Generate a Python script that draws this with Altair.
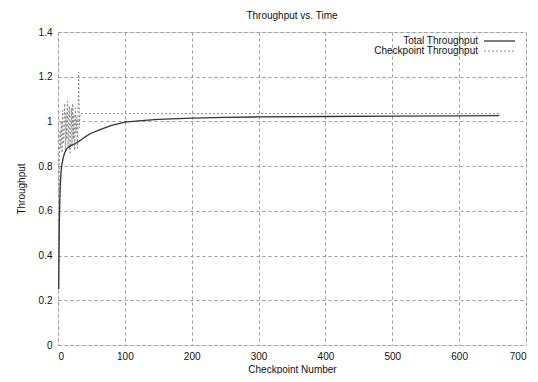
import altair as alt
import pandas as pd

# Total throughput (cumulative average)
total_x = [1, 2, 3, 4, 5, 6, 8, 10, 13, 16, 20, 25, 33, 40, 48, 60, 80, 100,
           125, 150, 200, 250, 300, 400, 500, 600, 660]
total_y = [0.25, 0.55, 0.68, 0.75, 0.79, 0.81, 0.84, 0.86, 0.877, 0.885, 0.893,
           0.9, 0.914, 0.93, 0.945, 0.96, 0.982, 0.997, 1.004, 1.009, 1.015,
           1.018, 1.02, 1.022, 1.024, 1.025, 1.026]

# Per-checkpoint throughput
cp_x = list(range(1, 34)) + [34, 40, 60, 100, 200, 300, 400, 500, 600, 660]
cp_y = [0.25, 0.84, 0.96, 0.88, 1.0, 0.86, 1.05, 0.9, 0.97, 1.08, 0.87, 1.04,
        0.92, 1.09, 0.88, 1.01, 1.07, 0.86, 0.97, 1.06, 0.89, 1.08, 0.92, 1.03,
        0.87, 1.06, 0.95, 1.02, 0.88, 1.04, 1.22, 0.97, 1.035,
        1.035, 1.035, 1.035, 1.035, 1.035, 1.035, 1.035, 1.035, 1.035, 1.035]

legend_labels = ["Total Throughput", "Checkpoint Throughput"]

total_df = pd.DataFrame({"x": total_x, "y": total_y})
cp_df = pd.DataFrame({"x": cp_x, "y": cp_y})

FONT = "Liberation Sans"

xs = alt.Scale(domain=[0, 700], nice=False, zero=False)
ys = alt.Scale(domain=[0, 1.4], nice=False)

xaxis = alt.Axis(values=[0, 100, 200, 300, 400, 500, 600, 700], title="Checkpoint Number",
                 grid=True, gridDash=[3, 3], gridColor="#999999", ticks=False,
                 domain=False, labelPadding=6, titlePadding=3,
                 labelFont=FONT, titleFont=FONT, labelFontSize=10, titleFontSize=10,
                 titleFontWeight="normal", labelColor="#111", titleColor="#111")
yaxis = alt.Axis(values=[0, 0.2, 0.4, 0.6, 0.8, 1.0, 1.2, 1.4], title="Throughput",
                 format="~g", grid=True, gridDash=[3, 3], gridColor="#999999",
                 ticks=False, domain=False, labelPadding=6, titlePadding=12,
                 labelFont=FONT, titleFont=FONT, labelFontSize=10, titleFontSize=10,
                 titleFontWeight="normal", labelColor="#111", titleColor="#111")

cp_line = alt.Chart(cp_df).mark_line(color="#888888", strokeWidth=1,
                                     strokeDash=[2, 2]).encode(
    x=alt.X("x:Q", scale=xs, axis=xaxis),
    y=alt.Y("y:Q", scale=ys, axis=yaxis),
)
total_line = alt.Chart(total_df).mark_line(color="#333333", strokeWidth=1.3).encode(
    x=alt.X("x:Q", scale=xs, axis=xaxis),
    y=alt.Y("y:Q", scale=ys, axis=yaxis),
)

one = pd.DataFrame({"a": [0]})
leg_text1 = alt.Chart(one).mark_text(align="right", baseline="middle", font=FONT,
                                     fontSize=10, color="#111").encode(
    x=alt.value(420), y=alt.value(9), text=alt.value(legend_labels[0]))
leg_text2 = alt.Chart(one).mark_text(align="right", baseline="middle", font=FONT,
                                     fontSize=10, color="#111").encode(
    x=alt.value(420), y=alt.value(19), text=alt.value(legend_labels[1]))
leg_rule1 = alt.Chart(one).mark_rule(color="#333333", strokeWidth=1.3).encode(
    x=alt.value(426), x2=alt.value(457), y=alt.value(9))
leg_rule2 = alt.Chart(one).mark_rule(color="#888888", strokeWidth=1,
                                     strokeDash=[2, 2]).encode(
    x=alt.value(426), x2=alt.value(457), y=alt.value(19))

chart = alt.layer(cp_line, total_line, leg_text1, leg_text2, leg_rule1, leg_rule2).properties(
    width=468, height=313,
    title=alt.TitleParams("Throughput vs. Time", font=FONT, fontSize=10,
                          fontWeight="normal", color="#111", offset=6),
    autosize=alt.AutoSizeParams(type="none"),
    padding={"left": 50, "top": 24, "right": 4, "bottom": 29},
).configure_view(stroke="black", strokeWidth=1.5).configure(background="white")

chart.save("out.html", embed_options={"renderer": "svg", "actions": False})
